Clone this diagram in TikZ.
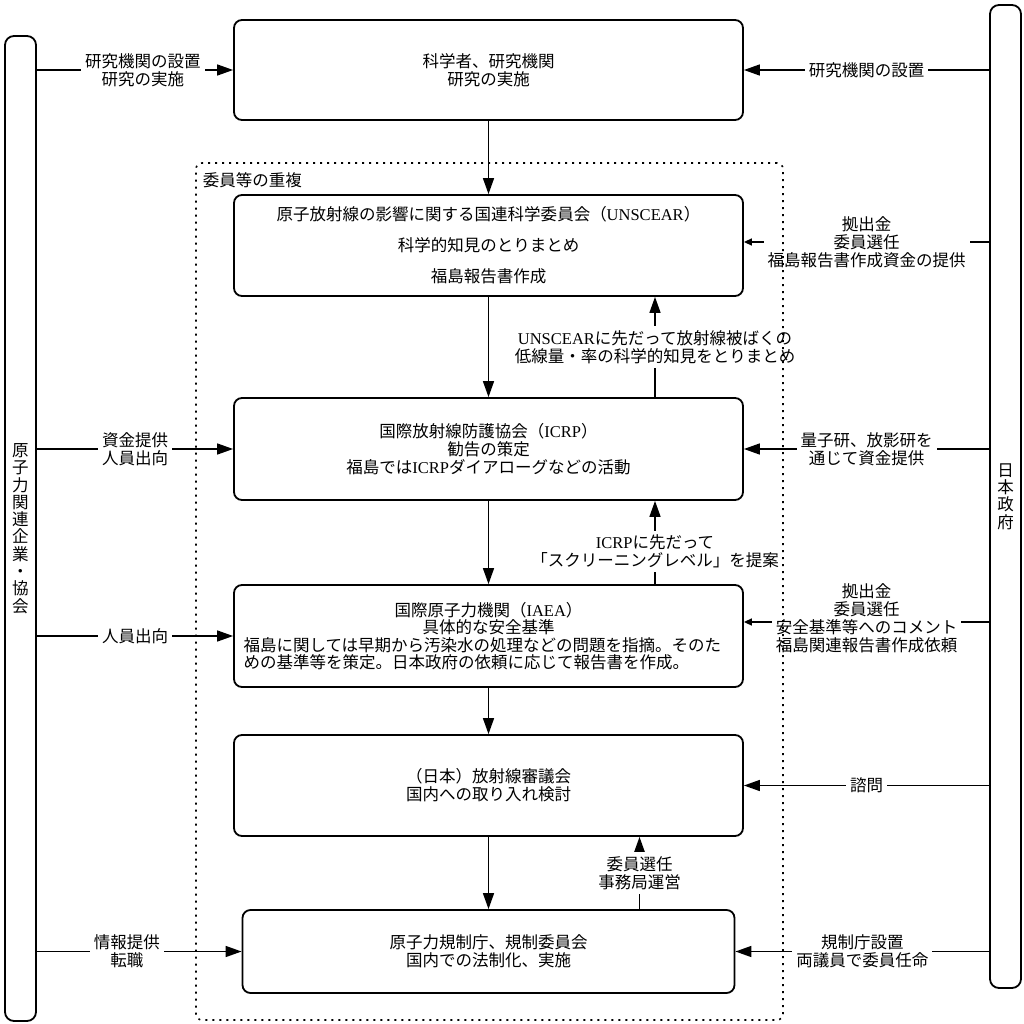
\documentclass[tikz,border=0pt]{standalone}
\usepackage{fontspec}
\setmainfont{Noto Sans CJK JP}
\newfontfamily\enfont{Liberation Serif}
\newcommand{\en}[1]{{\enfont #1}}
\usetikzlibrary{arrows.meta}

\begin{document}
\begin{tikzpicture}[x=1pt, y=-1pt, line width=1.5pt,
  box/.style={draw, rounded corners=8pt, line width=1.8pt, align=center,
              minimum width=509pt, minimum height=101pt,
              font=\fontsize{16.5}{18}\selectfont},
  bar/.style={draw, rounded corners=9pt, line width=1.8pt, align=center,
              minimum width=31pt, inner sep=0pt,
              font=\fontsize{16.5}{17.3}\selectfont},
  lab/.style={fill=white, align=center, inner sep=4pt,
              font=\fontsize{16.5}{18}\selectfont},
  grp/.style={draw, rounded corners=6pt, line width=1.6pt,
              dash pattern=on 2pt off 5pt},
  a/.style={-{Triangle[length=16pt, width=11pt]}},
  asm/.style={-{Triangle[length=8pt, width=7pt]}}]

  \useasboundingbox (0,0) rectangle (1024,1024);

  % side bars
  \node[bar, minimum height=985pt] (ind) at (20.5,528.5)
    {原\\子\\力\\関\\連\\企\\業\\・\\協\\会};
  \node[bar, minimum height=983pt] (gov) at (1005.5,496.5) {日\\本\\政\\府};

  % main column
  \node[box, minimum height=100pt] (sci) at (488.5,70) {科学者、研究機関\\研究の実施};
  \node[box] (uns) at (488.5,245.5)
    {原子放射線の影響に関する国連科学委員会（\en{UNSCEAR}）\\[13pt]
     科学的知見のとりまとめ\\[13pt]福島報告書作成};
  \node[box, minimum height=102pt] (icrp) at (488.5,449)
    {国際放射線防護協会（\en{ICRP}）\\勧告の策定\\福島では\en{ICRP}ダイアローグなどの活動};
  \node[box, minimum height=102pt, text width=490pt, align=left,
        font=\fontsize{16.5}{17.5}\selectfont] (iaea) at (488.5,636)
    {{\centering 国際原子力機関（\en{IAEA}）\\具体的な安全基準\par}
     \noindent 福島に関しては早期から汚染水の処理などの問題を指摘。そのた\\めの基準等を策定。日本政府の依頼に応じて報告書を作成。};
  \node[box] (shin) at (488.5,785.5) {（日本）放射線審議会\\国内への取り入れ検討};
  \node[box, minimum width=492pt, minimum height=83pt] (nra) at (488.5,951.5)
    {原子力規制庁、規制委員会\\国内での法制化、実施};

  \coordinate (unsin) at ([yshift=3.5pt]uns.east);
  \coordinate (iaeain) at ([yshift=14pt]iaea.east);

  % downward flow
  \draw[a] (sci) -- (uns);
  \draw[a] (uns) -- (icrp);
  \draw[a] (icrp) -- (iaea);
  \draw[a] (iaea) -- (shin);
  \draw[a] (shin) -- (nra);

  % upward feedback
  \draw[a] ([xshift=166.5pt]icrp.north) -- ([xshift=166.5pt]uns.south)
    node[lab, midway] {\en{UNSCEAR}に先だって放射線被ばくの\\低線量・率の科学的知見をとりまとめ};
  \draw[a] ([xshift=166.5pt]iaea.north) -- ([xshift=166.5pt]icrp.south)
    node[lab, pos=0.39] {\en{ICRP}に先だって\\「スクリーニングレベル」を提案};
  \draw[a] ([xshift=151pt]nra.north) -- ([xshift=151pt]shin.south)
    node[lab, midway] {委員選任\\事務局運営};

  % from industry
  \draw[a] (ind.east |- sci.west) -- (sci.west)
    node[lab, pos=0.54] {研究機関の設置\\研究の実施};
  \draw[a] (ind.east |- icrp.west) -- (icrp.west)
    node[lab, midway] {資金提供\\人員出向};
  \draw[a] (ind.east |- iaea.west) -- (iaea.west)
    node[lab, midway] {人員出向};
  \draw[a] (ind.east |- nra.west) -- (nra.west)
    node[lab, pos=0.44] {情報提供\\転職};

  % from government
  \draw[a] (gov.west |- sci.east) -- (sci.east)
    node[lab, midway] {研究機関の設置};
  \draw[asm] (gov.west |- unsin) -- (unsin)
    node[lab, midway] {拠出金\\委員選任\\福島報告書作成資金の提供};
  \draw[a] (gov.west |- icrp.east) -- (icrp.east)
    node[lab, midway] {量子研、放影研を\\通じて資金提供};
  \draw[asm] (gov.west |- iaeain) -- (iaeain)
    node[lab, midway, yshift=4pt] {拠出金\\委員選任\\安全基準等へのコメント\\福島関連報告書作成依頼};
  \draw[a] (gov.west |- shin.east) -- (shin.east)
    node[lab, midway] {諮問};
  \draw[a] (gov.west |- nra.east) -- (nra.east)
    node[lab, midway] {規制庁設置\\両議員で委員任命};

  % overlapping membership frame
  \node[grp, minimum width=587pt, minimum height=857pt] (dup) at (489.5,591.5) {};
  \node[anchor=north west, inner sep=0pt, font=\fontsize{16.5}{18}\selectfont]
    (duplab) at ([xshift=7pt, yshift=-10pt]dup.north west) {委員等の重複};

\end{tikzpicture}
\end{document}
